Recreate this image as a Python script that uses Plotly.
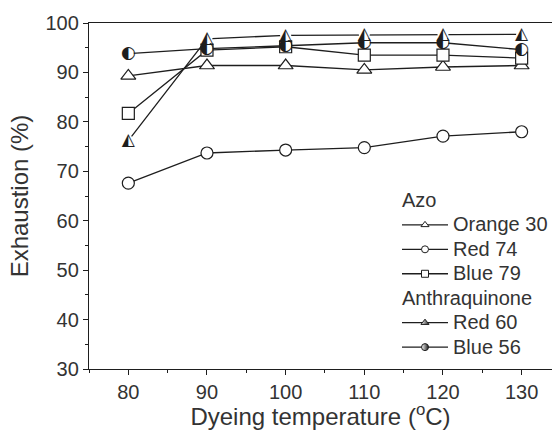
import plotly.graph_objects as go

temps = [80, 90, 100, 110, 120, 130]
orange30 = [89.3, 91.4, 91.4, 90.5, 91.1, 91.4]
red74 = [67.6, 73.7, 74.3, 74.8, 77.1, 78.0]
blue79 = [81.7, 94.5, 95.2, 93.5, 93.5, 92.9]
red60 = [76.2, 96.8, 97.5, 97.6, 97.6, 97.7]
blue56 = [93.8, 94.8, 95.4, 96.0, 96.0, 94.6]

LINE = "#1e1e1e"
TXT = "#333333"
FONT = "Liberation Sans, Arial, sans-serif"

fig = go.Figure()

def open_series(y, sym, size):
    fig.add_trace(go.Scatter(
        x=temps, y=y, mode="lines+markers", showlegend=False, hoverinfo="skip",
        line=dict(color=LINE, width=1.3),
        marker=dict(symbol=sym, size=size, color="white",
                    line=dict(color=LINE, width=1.2)),
    ))

def half_series(y, glyph):
    fig.add_trace(go.Scatter(
        x=temps, y=y, mode="lines+markers+text", showlegend=False, hoverinfo="skip",
        line=dict(color=LINE, width=1.3),
        marker=dict(symbol="circle", size=11, color="white", line=dict(width=0)),
        text=[glyph] * len(temps), textposition="middle center",
        textfont=dict(family="DejaVu Sans", size=17, color=LINE),
    ))

open_series(orange30, "triangle-up", 13)
open_series(red74, "circle", 12)
open_series(blue79, "square", 12)
half_series(blue56, "\u25D0")
half_series(red60, "\u25ED")

def big(s):
    return '<span style="font-size:20px">' + s + '</span>'

def legend_entry(name, sym, group, title, grad=False):
    mk = dict(symbol=sym, size=7, color="white", line=dict(color=LINE, width=1))
    if grad:
        mk["gradient"] = dict(type="horizontal", color=LINE)
    fig.add_trace(go.Scatter(
        x=[None], y=[None], mode="lines+markers", name=big(name),
        legendgroup=group, legendgrouptitle=dict(text=big(title)),
        line=dict(color=LINE, width=1.3), marker=mk,
    ))

legend_entry("Orange 30", "triangle-up", "azo", "Azo")
legend_entry("Red 74", "circle", "azo", "Azo")
legend_entry("Blue 79", "square", "azo", "Azo")
legend_entry("Red 60", "triangle-up", "anth", "Anthraquinone", grad=True)
legend_entry("Blue 56", "circle", "anth", "Anthraquinone", grad=True)

fig.update_layout(
    width=553, height=430,
    margin=dict(l=89, r=0, t=23, b=61),
    paper_bgcolor="white", plot_bgcolor="white",
    font=dict(family=FONT, size=20, color=TXT),
    legend=dict(x=0.665, y=0.537, xanchor="left", yanchor="top",
                bgcolor="rgba(0,0,0,0)", tracegroupgap=0,
                itemwidth=46, font=dict(size=16.5, color=TXT),
                grouptitlefont=dict(size=16.5, color=TXT)),
    xaxis=dict(range=[75, 133.86], tickvals=temps, showgrid=False, zeroline=False,
               showline=True, linecolor=LINE, linewidth=1.3, mirror=True,
               ticks="outside", ticklen=5, tickwidth=1.2, tickcolor=LINE,
               minor=dict(dtick=5, tick0=75, ticks="outside", ticklen=3, tickcolor=LINE, tickwidth=1.2),
               title=dict(text="Dyeing temperature (<sup>o</sup>C)", standoff=6)),
    yaxis=dict(range=[30, 100], dtick=10, showgrid=False, zeroline=False,
               showline=True, linecolor=LINE, linewidth=1.3,
               ticks="outside", ticklen=5, tickwidth=1.2, tickcolor=LINE,
               minor=dict(dtick=5, ticks="outside", ticklen=3, tickcolor=LINE, tickwidth=1.2),
               title=dict(text="Exhaustion (%)", standoff=10)),
)

fig.write_html("out.html", config={"displayModeBar": False},
               post_script="document.body.style.margin='0';")
